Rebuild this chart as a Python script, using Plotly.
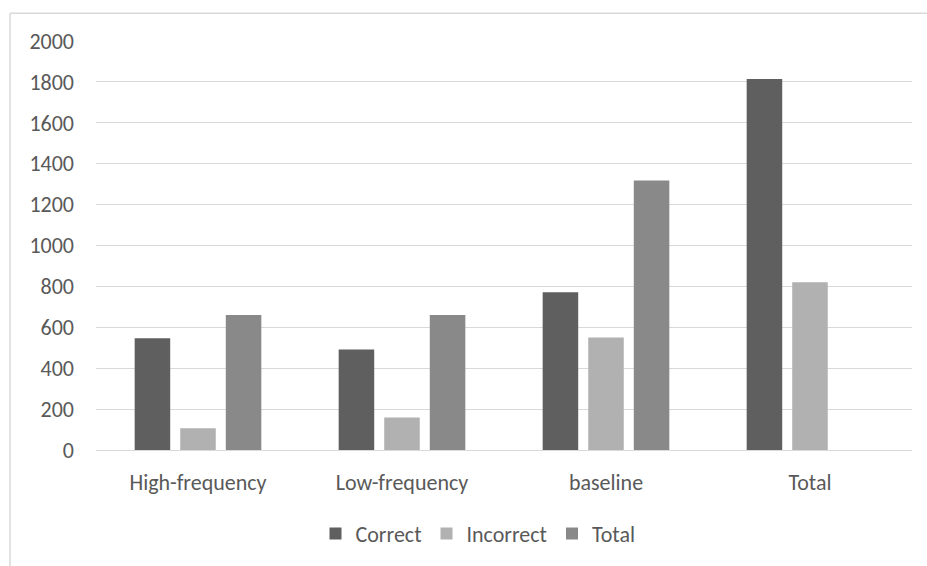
import plotly.graph_objects as go

categories = ["High-frequency", "Low-frequency", "baseline", "Total"]
correct = [547, 492, 771, 1814]
incorrect = [106, 159, 550, 820]
total = [660, 660, 1318, None]
series_names = ["Correct", "Incorrect", "Total"]
y_ticks = [0, 200, 400, 600, 800, 1000, 1200, 1400, 1600, 1800, 2000]

colors = ["#5f5f5f", "#b1b1b1", "#898989"]
font_family = "Carlito, Calibri, Lato, sans-serif"
text_color = "#595959"

W, H = 927, 566
ml, mr, mt, mb = 96, 15, 41, 114
pw, ph = W - ml - mr, H - mt - mb


def px_x(p):
    return (p - ml) / pw


def px_y(p):
    return (H - mb - p) / ph


fig = go.Figure()
for name, vals, col in zip(series_names, [correct, incorrect, total], colors):
    fig.add_trace(go.Bar(x=categories, y=vals, name=name, marker=dict(color=col, line=dict(width=0))))

border = "#d9d9d9"
fig.add_shape(type="line", xref="paper", yref="paper", x0=px_x(10), x1=px_x(10), y0=px_y(13), y1=px_y(580),
              line=dict(color=border, width=1.5))
fig.add_shape(type="line", xref="paper", yref="paper", x0=px_x(10), x1=px_x(940), y0=px_y(13), y1=px_y(13),
              line=dict(color=border, width=1.5))

fs = 22
fig.update_layout(
    width=W, height=H,
    margin=dict(l=ml, r=mr, t=mt, b=mb),
    paper_bgcolor="white", plot_bgcolor="white",
    barmode="group", bargap=0.33, bargroupgap=0.22,
    font=dict(family=font_family, size=fs, color=text_color),
    legend=dict(orientation="h", x=px_x(478), xanchor="center", y=px_y(536), yanchor="middle",
                font=dict(size=fs, color=text_color), itemwidth=30, traceorder="normal"),
    xaxis=dict(showgrid=False, showline=False, ticks="", ticklabelstandoff=17,
               tickfont=dict(size=fs, color=text_color)),
    yaxis=dict(range=[0, 2000], tickvals=y_ticks, showgrid=True, gridcolor=border, gridwidth=1.3,
               zeroline=True, zerolinecolor=border, zerolinewidth=1.3, showline=False, ticks="",
               ticklabelstandoff=21, tickfont=dict(size=fs, color=text_color)),
)

fig.write_html("out.html", config={"displayModeBar": False},
               post_script="document.body.style.margin='0px';")
